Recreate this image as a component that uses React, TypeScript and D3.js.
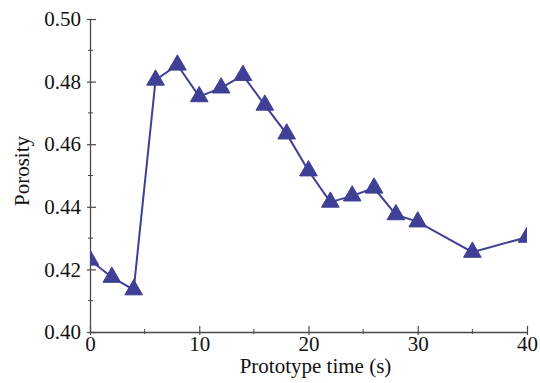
import * as d3 from 'd3';
import React, { useEffect, useRef } from 'react';

// prototype time (s) and measured porosity
const times = [0, 2, 4, 6, 8, 10, 12, 14, 16, 18, 20, 22, 24, 26, 28, 30, 35, 40];
const porosity = [0.423, 0.4175, 0.4135, 0.4805, 0.4853, 0.4752, 0.478, 0.482, 0.4725, 0.4633, 0.4515, 0.4415, 0.4435, 0.446, 0.4375, 0.4352, 0.4255, 0.4303];

const xTicks = [0, 10, 20, 30, 40];
const xMinor = [5, 15, 25, 35];
const yTicks = [0.4, 0.42, 0.44, 0.46, 0.48, 0.5];
const yMinor = [0.41, 0.43, 0.45, 0.47, 0.49];

const App = () => {
  const ref = useRef<SVGSVGElement | null>(null);

  useEffect(() => {
    if (!ref.current) return;
    const svg = d3.select(ref.current);
    svg.selectAll('*').remove();

    const margin = { top: 19, right: 13, bottom: 51, left: 90 };
    const width = 540;
    const height = 383;
    const w = width - margin.left - margin.right;
    const h = height - margin.top - margin.bottom;

    const x = d3.scaleLinear().domain([0, 40]).range([0, w]);
    const y = d3.scaleLinear().domain([0.4, 0.5]).range([h, 0]);

    const g = svg.append('g').attr('transform', `translate(${margin.left},${margin.top})`);
    const axisColor = '#4a4a4a';
    const font = '"Liberation Serif", "Times New Roman", serif';
    const fontSize = '21px';

    svg.append('defs').append('clipPath').attr('id', 'plotclip')
      .append('rect').attr('x', 0).attr('y', -10).attr('width', w).attr('height', h + 10);

    // minor ticks (cross the axis slightly)
    g.selectAll('.xminor').data(xMinor).enter().append('line')
      .attr('x1', (d) => x(d)).attr('x2', (d) => x(d))
      .attr('y1', h + 2).attr('y2', h - 3)
      .attr('stroke', axisColor).attr('stroke-width', 1);
    g.selectAll('.yminor').data(yMinor).enter().append('line')
      .attr('x1', -2).attr('x2', 3)
      .attr('y1', (d) => y(d)).attr('y2', (d) => y(d))
      .attr('stroke', axisColor).attr('stroke-width', 1);

    const xAxis = g.append('g').attr('transform', `translate(0,${h})`)
      .call(d3.axisBottom(x).tickValues(xTicks).tickSizeInner(-6).tickSizeOuter(0).tickPadding(4).tickFormat(d3.format('d')));
    const yAxis = g.append('g')
      .call(d3.axisLeft(y).tickValues(yTicks).tickSizeInner(-6).tickSizeOuter(0).tickPadding(9).tickFormat(d3.format('.2f')));

    [xAxis, yAxis].forEach((a) => {
      a.select('.domain').attr('stroke', axisColor).attr('stroke-width', 1.3);
      a.selectAll('.tick text').attr('fill', '#111').style('font-family', font).style('font-size', fontSize);
    });
    // major ticks poke out a little on the outside too
    xAxis.selectAll('.tick line').attr('y1', 3).attr('stroke', axisColor).attr('stroke-width', 1.2);
    yAxis.selectAll('.tick line').attr('x1', -3).attr('stroke', axisColor).attr('stroke-width', 1.2);
    xAxis.selectAll('.tick text').attr('dy', '0.7em');

    const color = '#3f3f95';
    const line = d3.line<number>().x((d, i) => x(times[i])).y((d) => y(d));
    const plot = g.append('g').attr('clip-path', 'url(#plotclip)');
    plot.append('path').datum(porosity)
      .attr('d', line)
      .attr('fill', 'none').attr('stroke', color).attr('stroke-width', 2);

    const tri = d3.symbol().type(d3.symbolTriangle).size(135);
    plot.selectAll('.pt').data(porosity).enter().append('path')
      .attr('d', tri)
      .attr('transform', (d, i) => `translate(${x(times[i])},${y(d)})`)
      .attr('fill', color).attr('stroke', color).attr('stroke-width', 1);

    svg.append('text')
      .attr('x', margin.left + w / 2 + 7).attr('y', 373)
      .attr('text-anchor', 'middle')
      .style('font-family', font).style('font-size', fontSize).attr('fill', '#111')
      .text('Prototype time (s)');

    svg.append('text')
      .attr('transform', `translate(29,171) rotate(-90)`)
      .attr('text-anchor', 'middle')
      .style('font-family', font).style('font-size', fontSize).attr('fill', '#111')
      .text('Porosity');
  }, []);

  return <svg ref={ref} width={540} height={383} style={{ position: 'absolute', left: 0, top: 0, background: '#fff' }} />;
};

export default App;
